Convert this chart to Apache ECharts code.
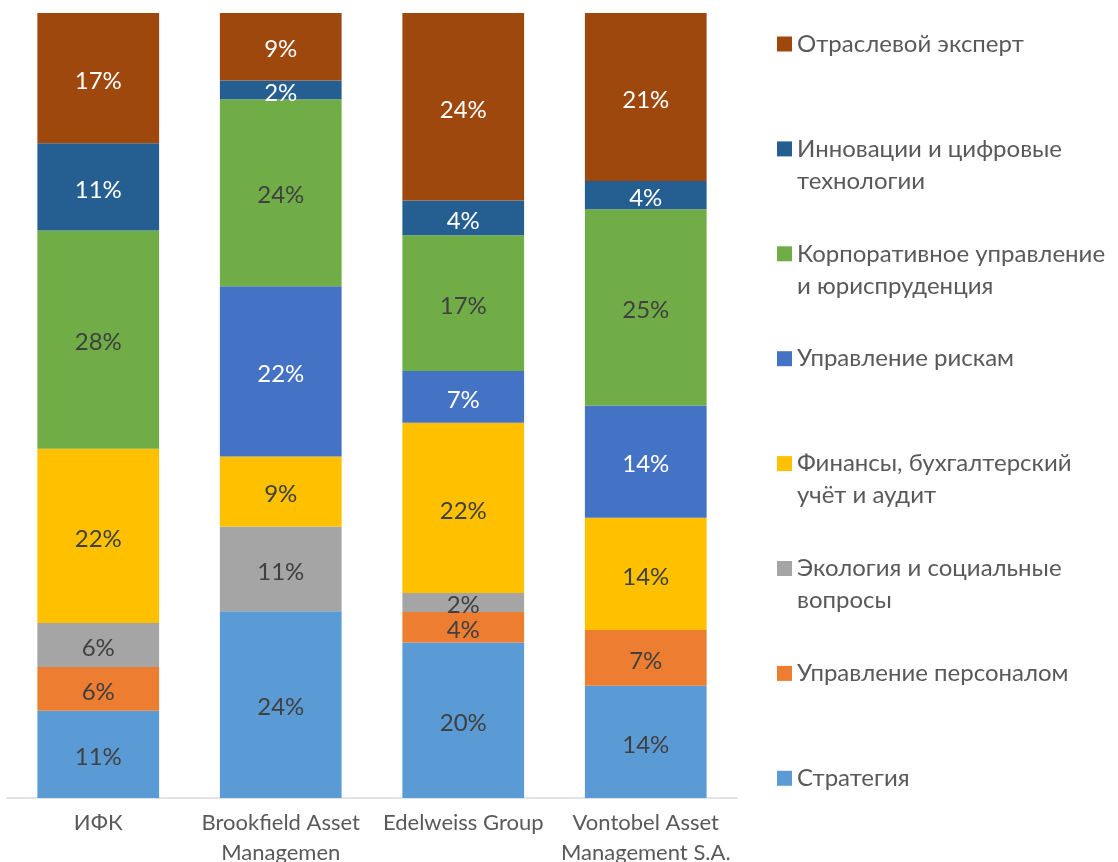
<!DOCTYPE html>
<html>
<head>
<meta charset="utf-8">
<script src="https://cdn.jsdelivr.net/npm/echarts@6/dist/echarts.min.js"></script>
<style>
html,body{margin:0;padding:0;background:#fff;}
#chart{width:1118px;height:862px;}
</style>
</head>
<body>
<div id="chart"></div>
<script>
// Categories (as displayed, wrapped like the original)
const categories = ['ИФК', 'Brookfield Asset\nManagemen', 'Edelweiss Group', 'Vontobel Asset\nManagement S.A.'];

// Series names (bottom to top of the stack)
const seriesNames = [
  'Стратегия',
  'Управление персоналом',
  'Экология и социальные\nвопросы',
  'Финансы, бухгалтерский\nучёт и аудит',
  'Управление рискам',
  'Корпоративное управление\nи юриспруденция',
  'Инновации и цифровые\nтехнологии',
  'Отраслевой эксперт'
];

// Shares, % (per company, each column sums to 100)
const strategy  = [11.1, 23.8, 19.8, 14.3];
const personnel = [5.6, 0, 3.9, 7.1];
const ecology   = [5.6, 10.8, 2.4, 0];
const finance   = [22.2, 8.9, 21.7, 14.3];
const risk      = [0, 21.7, 6.6, 14.3];
const corporate = [27.8, 23.8, 17.3, 25.0];
const innovation= [11.1, 2.4, 4.4, 3.6];
const expert    = [16.6, 8.6, 23.9, 21.4];

const seriesData = [strategy, personnel, ecology, finance, risk, corporate, innovation, expert];
const colors = ['#5B9BD5', '#ED7D31', '#A5A5A5', '#FFC000', '#4472C4', '#70AD47', '#255E91', '#9E480E'];
const labelColors = ['#404040', '#404040', '#404040', '#404040', '#ffffff', '#404040', '#ffffff', '#ffffff'];

const FONT = 'Lato';
const chart = echarts.init(document.getElementById('chart'), null, {renderer: 'canvas'});

const series = seriesNames.map((name, i) => ({
  name: name,
  type: 'bar',
  stack: 'total',
  barCategoryGap: '33.3%',
  itemStyle: {color: colors[i]},
  label: {
    show: true,
    position: 'inside',
    offset: [0, 3],
    fontFamily: FONT,
    fontSize: 24,
    color: labelColors[i],
    formatter: p => (p.value ? Math.round(p.value) + '%' : '')
  },
  emphasis: {disabled: true},
  data: seriesData[i]
}));

// Legend: top to bottom = reverse stack order; marker aligned with first text line
const LINE_H = 32;
const legendOrder = seriesNames.map((n, i) => i).reverse();
const legends = legendOrder.map((si, k) => {
  const name = seriesNames[si];
  const twoLines = name.indexOf('\n') >= 0;
  const center = 44 + k * 104.9;
  return {
    show: true,
    orient: 'vertical',
    left: 777,
    top: center - (twoLines ? 1.5 : 0.5) * LINE_H,
    padding: 0,
    itemWidth: 15,
    itemHeight: 15,
    itemGap: 0,
    icon: 'rect',
    selectedMode: false,
    data: [name],
    formatter: n => (twoLines ? ' \n' + n : n),
    textStyle: {
      fontFamily: FONT,
      fontSize: 24,
      color: '#595959',
      lineHeight: LINE_H
    }
  };
});

chart.setOption({
  animation: false,
  backgroundColor: '#ffffff',
  grid: {left: 7, right: 381, top: 13, bottom: 64, outerBoundsMode: 'none'},
  legend: legends,
  xAxis: {
    type: 'category',
    data: categories,
    axisLine: {show: true, lineStyle: {color: '#D9D9D9', width: 1.5}},
    axisTick: {show: false},
    axisLabel: {
      fontFamily: FONT,
      fontSize: 22,
      color: '#595959',
      lineHeight: 30,
      margin: 10,
      interval: 0
    }
  },
  yAxis: {
    type: 'value',
    min: 0,
    max: 100,
    show: false,
    splitLine: {show: false}
  },
  series: series
});
</script>
</body>
</html>
